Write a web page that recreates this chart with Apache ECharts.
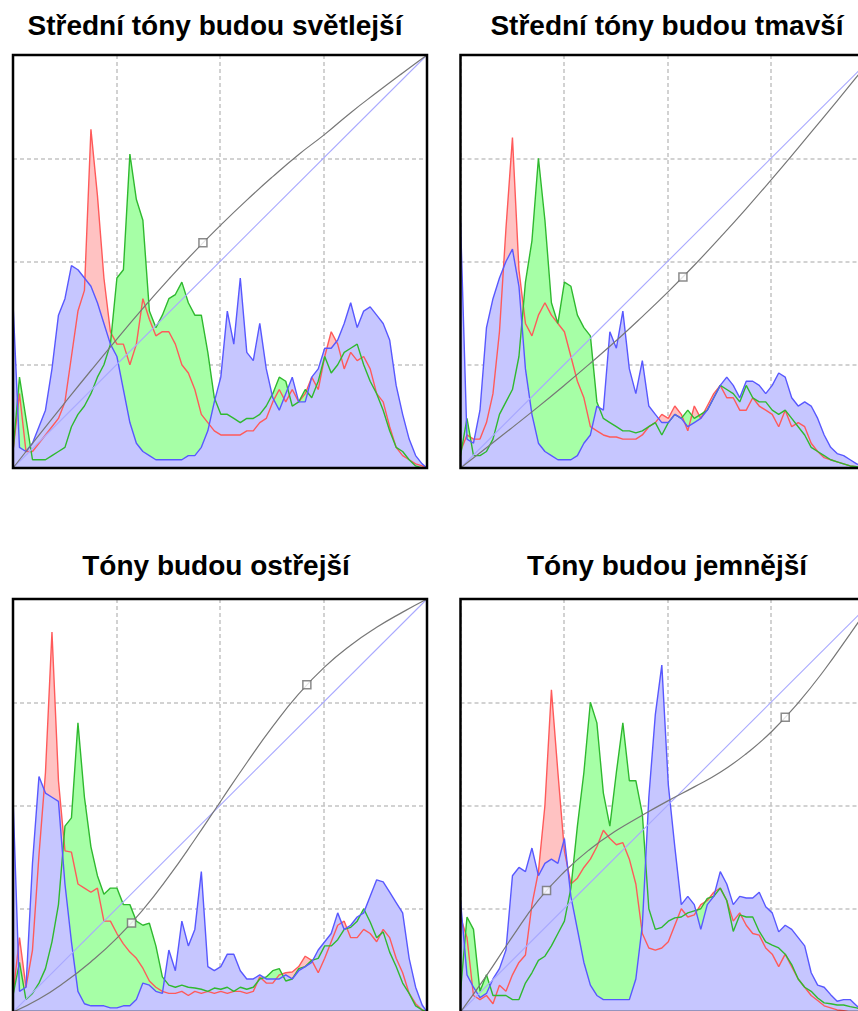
<!DOCTYPE html>
<html><head><meta charset="utf-8">
<script src="https://cdn.jsdelivr.net/npm/echarts@6/dist/echarts.min.js"></script>
<style>html,body{margin:0;padding:0;background:#fff}#c{width:858px;height:1011px}</style>
</head><body><div id="c"></div>
<script>
// Input levels (histogram bins) 0..255
const LEVELS = [0,4,8,12,16,20,24,28,32,36,40,44,48,52,56,60,64,68,72,76,80,84,88,92,96,100,104,108,112,116,120,124,128,132,136,140,144,148,152,156,160,164,168,172,176,180,184,188,192,196,200,204,208,212,216,220,224,228,232,236,240,244,248,252,255];
const TITLES = ['Střední tóny budou světlejší','Střední tóny budou tmavší','Tóny budou ostřejší','Tóny budou jemnější'];

// Histogram heights, % of plot height
const P1_RED   = [4,18,4,4,6,8,10,12,16,27,38,43,82,66,46,33,30,30,25,30,41,36,32,33,33,30,25,23,19,13,11,9,8,8,8,8,9,9,11,12,16,19,16,19,16,18,22,19,27,33,30,24,28,26,27,24,18,16,10,5,3,2,1,0.5,0];
const P1_GREEN = [4,22,12,2,2,2,3,4,5,10,13,15,18,22,25,30,46,48,76,65,60,38,34,37,41,42,45,40,37,37,28,17,13,13,12,11,12,12,13,15,18,22,21,15,16,19,17,21,27,23,25,28,29,30,25,21,18,14,9,5,4,2,0.5,0,0];
const P1_BLUE  = [40,5,4,6,10,14,24,37,41,49,48,46,44,40,35,30,27,19,11,6,4,3,2,2,2,2,2,3,3,5,9,16,22,38,30,46,28,26,35,24,17,14,18,22,16,16,22,24,29,29,31,35,40,34,38,39,37,35,31,20,13,7,3,1,0];

const P2_RED   = [4,8,7,7,11,18,33,58,80,48,35,32,37,40,37,35,33,27,21,17,10,9,8,7.5,7.5,7,7,7,8,10,11,13,12,15,13,9,15,12,15,18,20,17,17,14,14,17,15,14,13,10,14,10,11,10,6,4,2.5,2,1.5,1,0.5,0.3,0,0,0];
const P2_GREEN = [3,12,3,3,4,7,13,16,19,27,45,55,75,60,40,35,45,44,37,34,32,16,12,11,10,9,9,8.5,9,10,11,8,11,13,12,14,12,13,14,17,20,19,18,16,20,17,16,16,14,13,14,12,10,8,5,4,3,2,1.5,1,0.5,0.3,0,0,0];
const P2_BLUE  = [60,7,6,14,34,41,46,50,53,44,24,13,6,4,3,2,2,2,3,6,8,15,14,33,29,38,24,18,26,15,13,11,11,13,12,10,11,12,14,17,20,22,20,17,21,21,20,18,20,23,22,17,15,16,15,12,8,5,3.5,3,2,1,0.5,0,0];

const P3_RED   = [4,18,6,15,38,58,92,56,39,38.7,31,30,29,30,22,22,19,16.5,14.5,13,10.6,7.5,6,5,4.5,4.5,5,4,5,4.5,5,4.5,5,4.5,5,5,4.5,5,8.5,7,7,9,9.5,9.7,11,13.5,12.5,9.5,13,17,21,22,18,18,20,19,17,20,18,13,9.5,4.5,2,0.5,0];
const P3_GREEN = [4,12,3,4.5,7,10.5,17,26,45,47,70,52,40,33,28.5,30,30,26,26,22,21,21.5,16,8.5,6.5,6,6.5,6,5.8,5.5,5,5.8,5.5,6,5,6,5.5,6,8,8.5,10,10.5,7.5,8,10.5,11,12.5,13,16,16,17.5,20,20.5,22,25,21.8,18,19.4,14.5,11,7,4.5,1.5,0.5,0];
const P3_BLUE  = [52,5,6,36,57,53,52,51,31,17,5,2,1.5,1.5,1.5,1,1,1.5,1.5,3,7,6.5,5,4.5,15,10,22,16,20,34,11,10,11,14,14,10,8,8,9,8,8,8,9,8,10,11,12,15,17,19,24,20,21,23,24,28,32,31.5,29,26.5,24,13,6,1.7,0];

const P4_RED   = [23,18,4,3,4,2,6.5,5,9,12,13.8,26,34,50,78,58,39,31,32.4,35,37,40,44,42,40.5,41,37,31,19,15.5,15,15.5,17,21,25,23,23.5,26,27,29,30,27,22,24,21,19,18.6,15.5,14,11,14,11,8,6,4,2.8,1.5,1,0.5,0.3,0,0,0,0,0];
const P4_GREEN = [5,23,20,5,9,4,4,4,3,3,7,9.5,12.5,13.5,16,19,22,30,45,58,75,70,53,45,58,70,56,56,48,25,20,20.5,22,22.8,23,24,24.5,25,27.5,28,30,27,19.5,23.5,23,23,19.5,17,16.2,15.5,14,11.5,8,6,5,3.4,2.2,2,1.7,1.7,1.3,1,0.5,0,0];
const P4_BLUE  = [27,9,6,3.5,4.5,8,10.5,15,33,35,34,39.7,33,36,37,36,42,28,20,12,6.5,4,3,3,3,3,3,8,21,52,72,84,55,40,26,28,26,20,26,28,34,31,26,28,27.6,27.6,29,25.5,24,19.4,21,20,18,16,9.5,6.5,6,4.2,2.6,3,3,1.5,0.5,0,0];

// Tone curves (input level, output level) and their control points
const DIAGONAL = [[0,0],[255,255]];
const CURVE1 = [[0,0],[16,20.3],[32,40.4],[48,60.2],[64,79.6],[80,98.5],[96,116.6],[112,133.8],[128,150],[144,165.4],[160,179.9],[176,193.6],[192,206],[208,219.4],[224,231.8],[240,243.9],[255,255]];
const CURVE2 = [[0,0],[16,12.5],[32,25.1],[48,37.9],[64,51.1],[80,64.7],[96,78.7],[112,93.5],[128,108.9],[144,125.2],[160,142.4],[176,160.2],[192,178.7],[208,197.7],[224,217],[240,236.5],[255,255]];
const CURVE3 = [[0,0],[16,8],[32,18.5],[48,31],[64,45.6],[80,63.1],[96,83.7],[112,106.5],[128,130.3],[144,153.9],[160,176.3],[176,196.4],[192,213.1],[208,226.5],[224,237.5],[240,246.9],[255,255]];
const CURVE4 = [[0,0],[16,22.5],[32,46.5],[48,69],[64,86.6],[80,100.7],[96,112],[112,121.5],[128,130.5],[144,139],[160,148],[176,159.5],[192,173.5],[208,190.9],[224,211],[240,233.5],[255,255]];
const CTRL1 = [[117,139]];
const CTRL2 = [[137,118]];
const CTRL3 = [[73,55],[181,202]];
const CTRL4 = [[53,75],[200,182]];

const PANELS = [
  {title:TITLES[0], red:P1_RED, green:P1_GREEN, blue:P1_BLUE, curve:CURVE1, ctrl:CTRL1},
  {title:TITLES[1], red:P2_RED, green:P2_GREEN, blue:P2_BLUE, curve:CURVE2, ctrl:CTRL2},
  {title:TITLES[2], red:P3_RED, green:P3_GREEN, blue:P3_BLUE, curve:CURVE3, ctrl:CTRL3},
  {title:TITLES[3], red:P4_RED, green:P4_GREEN, blue:P4_BLUE, curve:CURVE4, ctrl:CTRL4}
];
const POS = [{left:13, top:55, cx:215, ty:25},{left:460.5, top:55, cx:667, ty:25},{left:13, top:599, cx:216, ty:565},{left:460.5, top:599, cx:667, ty:565}];
const W = 414, H = 413;
const COLORS = {
  red:  {line:'#ff5a5a', fill:'#ffc2c2'},
  green:{line:'#2fb92f', fill:'#a6ffa6'},
  blue: {line:'#5858ff', fill:'#c6c6ff'}
};

const grids = [], xAxes = [], yAxes = [], series = [], graphics = [];
PANELS.forEach((p, i) => {
  const pos = POS[i];
  grids.push({left:pos.left, top:pos.top, width:W, height:H, show:true, backgroundColor:'#fff', borderWidth:0,
    outerBoundsMode:'none', containLabel:false});
  const split = {show:true, lineStyle:{color:'#c4c4c4', type:[4,3], width:1.5}};
  xAxes.push({gridIndex:i, type:'value', min:0, max:255, interval:63.75, axisLine:{show:false}, axisTick:{show:false}, axisLabel:{show:false}, splitLine:split});
  yAxes.push({gridIndex:i, type:'value', min:0, max:255, interval:63.75, axisLine:{show:false}, axisTick:{show:false}, axisLabel:{show:false}, splitLine:split});
  yAxes.push({gridIndex:i, type:'value', min:0, max:100, show:false, splitLine:{show:false}});
  ['red','green','blue'].forEach(ch => {
    series.push({type:'line', xAxisIndex:i, yAxisIndex:2*i+1, data:LEVELS.map((x,k)=>[x,p[ch][k]]),
      symbol:'none', silent:true, z:2, lineStyle:{width:0, opacity:0}, areaStyle:{color:COLORS[ch].fill, opacity:1}});
  });
  ['red','green','blue'].forEach(ch => {
    series.push({type:'line', xAxisIndex:i, yAxisIndex:2*i+1, data:LEVELS.map((x,k)=>[x,p[ch][k]]),
      symbol:'none', silent:true, z:3, lineStyle:{width:1.4, color:COLORS[ch].line}});
  });
  series.push({type:'line', xAxisIndex:i, yAxisIndex:2*i, data:DIAGONAL, symbol:'none', silent:true, z:4,
    lineStyle:{width:1.1, color:'#a9a9ff'}});
  series.push({type:'line', xAxisIndex:i, yAxisIndex:2*i, data:p.curve, smooth:0.5, symbol:'none', silent:true, z:5,
    lineStyle:{width:1.2, color:'#777777'}});
  series.push({type:'scatter', xAxisIndex:i, yAxisIndex:2*i, data:p.ctrl, symbol:'rect', symbolSize:8, silent:true, z:6,
    itemStyle:{color:'#fff', borderColor:'#6e6e6e', borderWidth:1.5}});
  graphics.push({type:'rect', z:100, silent:true, shape:{x:pos.left, y:pos.top, width:W, height:H},
    style:{fill:'none', stroke:'#000', lineWidth:2.5}});
  graphics.push({type:'text', z:100, silent:true, x:pos.cx, y:pos.ty,
    style:{text:p.title, font:'bold 28px "Liberation Sans", Arial, sans-serif', fill:'#000', textAlign:'center', textVerticalAlign:'middle'}});
});

const chart = echarts.init(document.getElementById('c'), null, {renderer:'svg'});
chart.setOption({animation:false, backgroundColor:'#fff', grid:grids, xAxis:xAxes, yAxis:yAxes, series:series, graphic:graphics});
</script>
</body></html>
